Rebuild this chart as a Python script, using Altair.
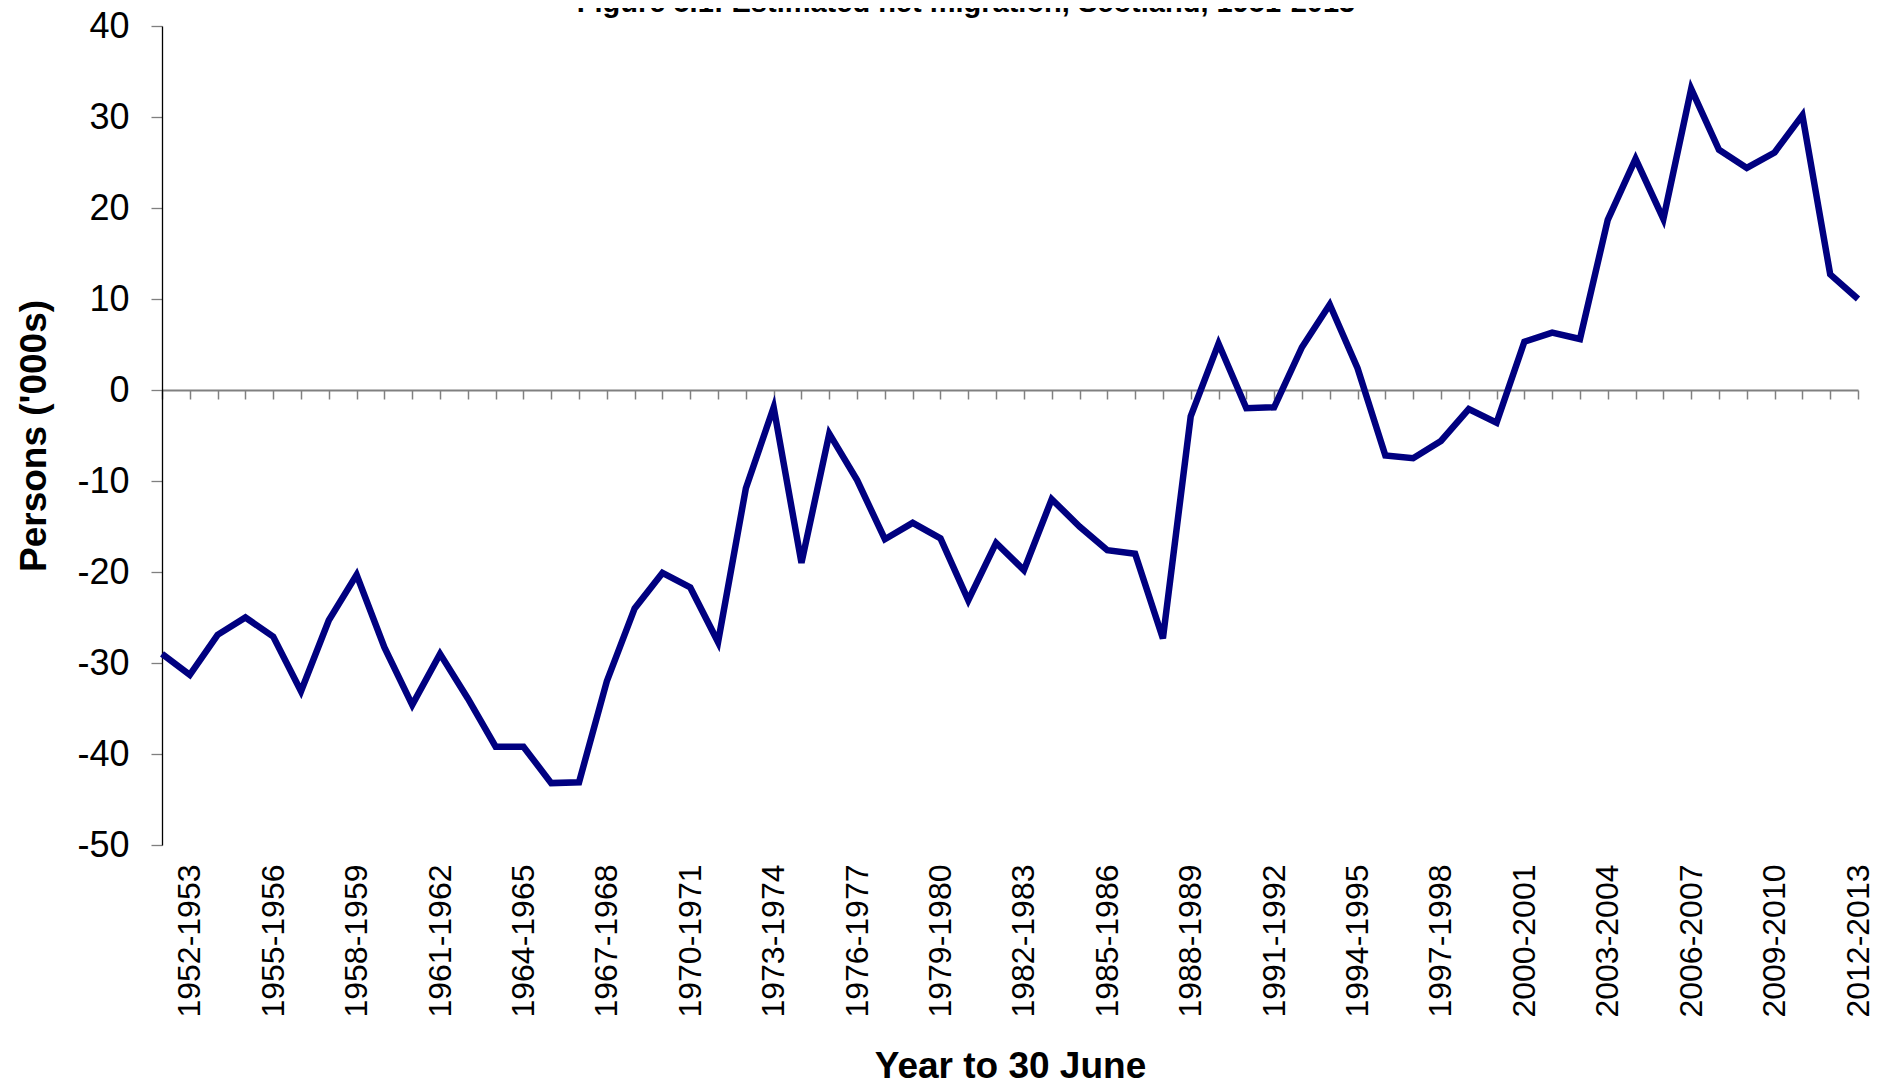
import altair as alt
import pandas as pd

# Year to 30 June periods (categories)
periods = [
    "1951-1952", "1952-1953", "1953-1954", "1954-1955", "1955-1956", "1956-1957",
    "1957-1958", "1958-1959", "1959-1960", "1960-1961", "1961-1962", "1962-1963",
    "1963-1964", "1964-1965", "1965-1966", "1966-1967", "1967-1968", "1968-1969",
    "1969-1970", "1970-1971", "1971-1972", "1972-1973", "1973-1974", "1974-1975",
    "1975-1976", "1976-1977", "1977-1978", "1978-1979", "1979-1980", "1980-1981",
    "1981-1982", "1982-1983", "1983-1984", "1984-1985", "1985-1986", "1986-1987",
    "1987-1988", "1988-1989", "1989-1990", "1990-1991", "1991-1992", "1992-1993",
    "1993-1994", "1994-1995", "1995-1996", "1996-1997", "1997-1998", "1998-1999",
    "1999-2000", "2000-2001", "2001-2002", "2002-2003", "2003-2004", "2004-2005",
    "2005-2006", "2006-2007", "2007-2008", "2008-2009", "2009-2010", "2010-2011",
    "2011-2012", "2012-2013",
]

# Estimated net migration, thousands of persons
net_migration = [
    -29.0, -31.3, -26.9, -25.0, -27.1, -33.1, -25.3, -20.3, -28.3, -34.6,
    -29.0, -33.9, -39.2, -39.2, -43.2, -43.1, -32.0, -24.0, -20.1, -21.7,
    -27.7, -10.8, -1.9, -19.0, -4.8, -9.9, -16.4, -14.6, -16.3, -23.1,
    -16.8, -19.8, -12.0, -15.0, -17.6, -18.0, -27.3, -2.9, 5.1, -2.0,
    -1.9, 4.7, 9.4, 2.4, -7.2, -7.5, -5.6, -2.1, -3.6, 5.3,
    6.3, 5.6, 18.7, 25.4, 18.8, 33.1, 26.4, 24.4, 26.1, 30.2,
    12.7, 10.0,
]

# Tick labels shown on the category axis
label_periods = [
    "1952-1953", "1955-1956", "1958-1959", "1961-1962", "1964-1965", "1967-1968",
    "1970-1971", "1973-1974", "1976-1977", "1979-1980", "1982-1983", "1985-1986",
    "1988-1989", "1991-1992", "1994-1995", "1997-1998", "2000-2001", "2003-2004",
    "2006-2007", "2009-2010", "2012-2013",
]

y_ticks = [-50, -40, -30, -20, -10, 0, 10, 20, 30, 40]

df = pd.DataFrame({"period": periods, "value": net_migration})

FONT = "Liberation Sans"
W, H = 1696, 819

x_scale = alt.Scale(type="point", padding=0)
y_scale = alt.Scale(domain=[-50, 40], nice=False, zero=False)

line = alt.Chart(df).mark_line(color="#000080", strokeWidth=6.5).encode(
    x=alt.X(
        "period:N",
        sort=periods,
        scale=x_scale,
        axis=alt.Axis(
            orient="bottom",
            values=label_periods,
            labelAngle=-90,
            domain=False,
            ticks=False,
            tickSize=0,
            grid=False,
            labelPadding=19,
            labelFont=FONT,
            labelFontSize=32,
            labelColor="#000000",
            labelOverlap=False,
            title="Year to 30 June",
            titleFont=FONT,
            titleFontSize=37,
            titleFontWeight="bold",
            titleColor="#000000",
            titlePadding=31,
        ),
    ),
    y=alt.Y(
        "value:Q",
        scale=y_scale,
        axis=alt.Axis(
            values=y_ticks,
            labelExpr="'' + datum.value",
            grid=False,
            domain=True,
            domainColor="#000000",
            domainWidth=1.3,
            ticks=True,
            tickColor="#7f7f7f",
            tickSize=11,
            tickWidth=1.3,
            labelPadding=22,
            labelFont=FONT,
            labelFontSize=36,
            labelColor="#000000",
            title="Persons ('000s)",
            titleFont=FONT,
            titleFontSize=37,
            titleFontWeight="bold",
            titleColor="#000000",
            titlePadding=23,
        ),
    ),
)

# zero axis line with a tick mark at every category
zero_axis = alt.Chart(df).mark_point(opacity=0).encode(
    x=alt.X(
        "period:N",
        sort=periods,
        scale=x_scale,
        axis=alt.Axis(
            orient="bottom",
            offset=-455,
            labels=False,
            domain=True,
            domainColor="#808080",
            domainWidth=2,
            ticks=True,
            tickColor="#808080",
            tickSize=9,
            tickWidth=1.5,
            grid=False,
            title=None,
        ),
    ),
)

chart = (
    alt.layer(zero_axis, line)
    .resolve_axis(x="independent")
    .properties(
        width=W,
        height=H,
        autosize=alt.AutoSizeParams(type="none"),
        padding={"left": 154, "top": 18, "right": 12, "bottom": 235},
        title=alt.TitleParams(
            "Figure 5.1: Estimated net migration, Scotland, 1951-2013",
            font=FONT,
            fontSize=29,
            fontWeight="bold",
            color="#000000",
            anchor="middle",
            offset=-10,
            dx=-44,
        ),
    )
    .configure_view(stroke=None)
)

chart.save("out.html", embed_options={"renderer": "svg", "actions": False})
